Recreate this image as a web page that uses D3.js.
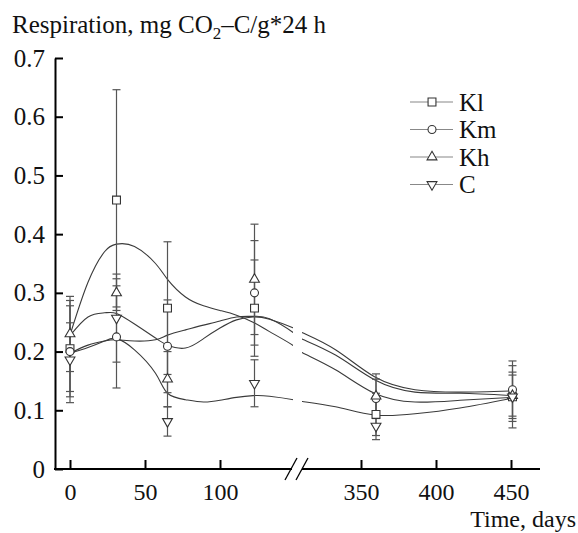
<!DOCTYPE html>
<html>
<head>
<meta charset="utf-8">
<script src="https://cdn.jsdelivr.net/npm/d3@7"></script>
<style>
  body { margin: 0; background: #fff; }
  text { font-family: "Liberation Serif", "DejaVu Serif", serif; fill: #111; }
</style>
</head>
<body>
<div class="chart"></div>
<script>
// sampling days and series
const seriesNames = ["Kl", "Km", "Kh", "C"]
const days = [0, 31, 65, 123, 360, 451]

// means and error half-widths
const klMean = [0.205, 0.458, 0.274, 0.274, 0.093, 0.123]
const klErr  = [0.073, 0.188, 0.113, 0.082, 0.036, 0.042]
const kmMean = [0.200, 0.225, 0.209, 0.300, 0.120, 0.135]
const kmErr  = [0.087, 0.087, 0.079, 0.089, 0.033, 0.049]
const khMean = [0.230, 0.300, 0.153, 0.323, 0.124, 0.125]
const khErr  = [0.064, 0.024, 0.047, 0.094, 0.038, 0.035]
const cMean  = [0.186, 0.257, 0.081, 0.146, 0.073, 0.123]
const cErr   = [0.063, 0.075, 0.025, 0.040, 0.023, 0.053]

// fitted smoothing curves, sampled from the figure
const fitDays = [0, 12, 23, 31, 43, 57, 65, 77, 89, 100, 111, 122, 133, 149, 311, 333, 359, 386, 416, 450]
const klFit = [0.228, 0.318, 0.370, 0.383, 0.379, 0.350, 0.323, 0.293, 0.278, 0.270, 0.262, 0.250, 0.234, 0.210, 0.198, 0.169, 0.129, 0.114, 0.117, 0.122]
const kmFit = [0.197, 0.211, 0.218, 0.220, 0.218, 0.220, 0.228, 0.237, 0.245, 0.252, 0.259, 0.260, 0.256, 0.232, 0.221, 0.194, 0.152, 0.131, 0.129, 0.125]
const khFit = [0.227, 0.259, 0.266, 0.265, 0.247, 0.223, 0.211, 0.206, 0.222, 0.240, 0.254, 0.259, 0.255, 0.240, 0.232, 0.203, 0.157, 0.135, 0.131, 0.133]
const cFit  = [0.197, 0.207, 0.218, 0.222, 0.203, 0.163, 0.129, 0.118, 0.114, 0.117, 0.122, 0.125, 0.124, 0.118, 0.115, 0.106, 0.092, 0.094, 0.104, 0.120]

const yTicks = [0, 0.1, 0.2, 0.3, 0.4, 0.5, 0.6, 0.7]
const xTicks = [0, 50, 100, 350, 400, 450]

const svg = d3.select(".chart").append("svg").attr("width", 578).attr("height", 533)

// broken time axis: 150..310 days squeezed into the gap
const x = d3.scaleLinear().domain([0, 150, 310, 450]).range([70, 295, 301, 511])
const y = d3.scaleLinear().domain([0, 0.7]).range([469, 58])
const axisX = 55, leftEnd = 292, rightStart = 302, axisEnd = 540

const symbols = [d3.symbolSquare, d3.symbolCircle, d3.symbolTriangle, d3.symbolTriangle]
const symSize = [62, 50, 42, 42]
const symRot = [0, 0, 0, 180]
const means = [klMean, kmMean, khMean, cMean]
const errs = [klErr, kmErr, khErr, cErr]
const fits = [klFit, kmFit, khFit, cFit]

// title
const title = svg.append("text").attr("x", 12).attr("y", 33).style("font-size", "25px")
title.append("tspan").text("Respiration, mg CO")
title.append("tspan").attr("dy", 6).style("font-size", "17px").text("2")
title.append("tspan").attr("dy", -6).text("\u2013C/g*24 h")

// clip so the curves break at the axis gap
const defs = svg.append("defs")
const clip = defs.append("clipPath").attr("id", "gap")
clip.append("rect").attr("x", axisX).attr("y", 0).attr("width", leftEnd + 1 - axisX).attr("height", 533)
clip.append("rect").attr("x", rightStart).attr("y", 0).attr("width", axisEnd - rightStart).attr("height", 533)

// fitted curves
const line = d3.line().x((d, i) => x(fitDays[i])).y(d => y(d)).curve(d3.curveNatural)
svg.append("g").attr("clip-path", "url(#gap)").selectAll("path").data(fits).enter().append("path")
   .attr("d", line).attr("fill", "none").attr("stroke", "#3a3a3a").attr("stroke-width", 1.1)

// error bars
const bars = svg.append("g")
means.forEach((m, s) => {
  m.forEach((v, i) => {
    const cx = x(days[i]), lo = y(v - errs[s][i]), hi = y(v + errs[s][i])
    bars.append("line").attr("x1", cx).attr("x2", cx).attr("y1", lo).attr("y2", hi)
        .attr("stroke", "#555").attr("stroke-width", 1.2)
    ;[lo, hi].forEach(yy => bars.append("line").attr("x1", cx - 4).attr("x2", cx + 4)
        .attr("y1", yy).attr("y2", yy).attr("stroke", "#555").attr("stroke-width", 1.2))
  })
})

// markers
means.forEach((m, s) => {
  svg.append("g").selectAll("path").data(m).enter().append("path")
     .attr("d", d3.symbol().type(symbols[s]).size(symSize[s]))
     .attr("transform", (d, i) => `translate(${x(days[i])},${y(d)}) rotate(${symRot[s]})`)
     .attr("fill", "white").attr("stroke", "#333").attr("stroke-width", 1.1)
})

// y axis
const yAxis = svg.append("g").attr("transform", `translate(${axisX},0)`)
  .call(d3.axisLeft(y).tickValues(yTicks).tickSizeInner(-8).tickSizeOuter(0).tickPadding(10)
        .tickFormat(d => d === 0 ? "0" : d3.format(".1f")(d)))
yAxis.selectAll("path, line").attr("stroke", "#000").attr("stroke-width", 2)
yAxis.selectAll("text").style("font-size", "25px").attr("font-family", null).attr("fill", "#111")

// x axis, drawn in two pieces around the break
const xAxis = svg.append("g").attr("transform", `translate(0,${y(0)})`)
  .call(d3.axisBottom(x).tickValues(xTicks).tickSizeInner(-9).tickSizeOuter(0).tickPadding(14))
xAxis.select(".domain").remove()
xAxis.selectAll("line").attr("stroke", "#000").attr("stroke-width", 2)
xAxis.selectAll("text").style("font-size", "24px").attr("font-family", null).attr("fill", "#111")
xAxis.append("line").attr("x1", axisX - 1).attr("x2", leftEnd).attr("y1", 0).attr("y2", 0)
     .attr("stroke", "#000").attr("stroke-width", 2)
xAxis.append("line").attr("x1", rightStart).attr("x2", axisEnd).attr("y1", 0).attr("y2", 0)
     .attr("stroke", "#000").attr("stroke-width", 2)
;[leftEnd - 1, rightStart].forEach(bx => xAxis.append("line")
     .attr("x1", bx - 6).attr("y1", 11).attr("x2", bx + 6).attr("y2", -11)
     .attr("stroke", "#000").attr("stroke-width", 1.3))

svg.append("text").attr("x", 576).attr("y", 527).attr("text-anchor", "end")
   .style("font-size", "24px").text("Time, days")

// legend
const legend = svg.selectAll(".legend").data(seriesNames).enter().append("g")
  .attr("class", "legend").attr("transform", (d, i) => `translate(410,${102 + i * 27.5})`)
legend.append("line").attr("x1", 0).attr("x2", 43).attr("stroke", "#888").attr("stroke-width", 1.2)
legend.append("path").attr("d", (d, i) => d3.symbol().type(symbols[i]).size(symSize[i])())
  .attr("transform", (d, i) => `translate(22,0) rotate(${symRot[i]})`)
  .attr("fill", "white").attr("stroke", "#333").attr("stroke-width", 1.1)
legend.append("text").attr("x", 49).attr("dy", "0.35em").style("font-size", "25px").text(d => d)
</script>
</body>
</html>
